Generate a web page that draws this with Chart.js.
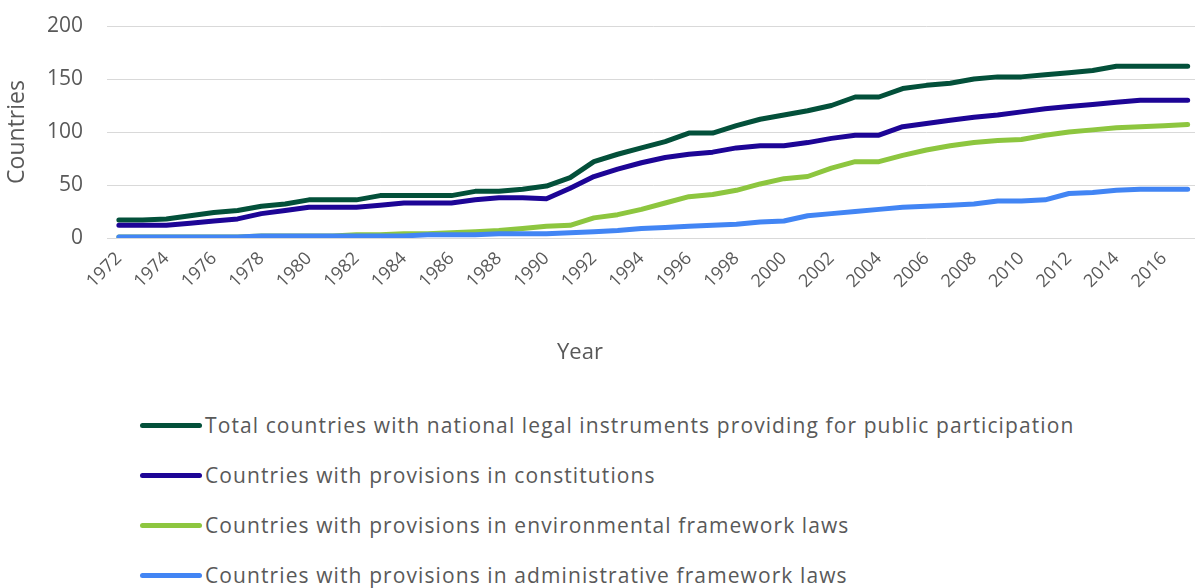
<!DOCTYPE html>
<html>
<head>
<meta charset="utf-8">
<script src="https://cdn.jsdelivr.net/npm/chart.js@4.4.1/dist/chart.umd.min.js"></script>
<style>
	html, body { margin: 0; padding: 0; background: #fff; overflow: hidden; }
	#wrap { position: relative; width: 1205px; height: 588px; }
	#chartBox { position: absolute; left: 0; top: 0; width: 1205px; height: 362px; }
	#xTitle { position: absolute; left: 580px; top: 350px; transform: translate(-50%, -50%); font-family: "Open Sans", sans-serif; font-size: 22px; color: #595959; }
	#legend { position: absolute; left: 140px; top: 400px; font-family: "Open Sans", sans-serif; font-size: 21px; letter-spacing: 1.1px; color: #595959; }
	.item { display: flex; align-items: center; height: 50px; }
	.swatch { width: 62px; height: 5px; border-radius: 3px; margin-right: 3px; }
</style>
</head>
<body>
<div id="wrap">
	<div id="chartBox"><canvas id="lawChart"></canvas></div>
	<div id="xTitle">Year</div>
	<div id="legend"></div>
</div>
<script>
// 연도 (1972 ~ 2017)
const years = [
	'1972', '1973', '1974', '1975', '1976', '1977', '1978', '1979', '1980', '1981',
	'1982', '1983', '1984', '1985', '1986', '1987', '1988', '1989', '1990', '1991',
	'1992', '1993', '1994', '1995', '1996', '1997', '1998', '1999', '2000', '2001',
	'2002', '2003', '2004', '2005', '2006', '2007', '2008', '2009', '2010', '2011',
	'2012', '2013', '2014', '2015', '2016', '2017'
];

const totalCountries = [
	17, 17, 18, 21, 24, 26, 30, 32, 36, 36,
	36, 40, 40, 40, 40, 44, 44, 46, 49, 57,
	72, 79, 85, 91, 99, 99, 106, 112, 116, 120,
	125, 133, 133, 141, 144, 146, 150, 152, 152, 154,
	156, 158, 162, 162, 162, 162
];

const constitutions = [
	12, 12, 12, 14, 16, 18, 23, 26, 29, 29,
	29, 31, 33, 33, 33, 36, 38, 38, 37, 47,
	58, 65, 71, 76, 79, 81, 85, 87, 87, 90,
	94, 97, 97, 105, 108, 111, 114, 116, 119, 122,
	124, 126, 128, 130, 130, 130
];

const environmentalLaws = [
	1, 1, 1, 1, 1, 1, 2, 2, 2, 2,
	3, 3, 4, 4, 5, 6, 7, 9, 11, 12,
	19, 22, 27, 33, 39, 41, 45, 51, 56, 58,
	66, 72, 72, 78, 83, 87, 90, 92, 93, 97,
	100, 102, 104, 105, 106, 107
];

const administrativeLaws = [
	1, 1, 1, 1, 1, 1, 2, 2, 2, 2,
	2, 2, 2, 3, 3, 3, 4, 4, 4, 5,
	6, 7, 9, 10, 11, 12, 13, 15, 16, 21,
	23, 25, 27, 29, 30, 31, 32, 35, 35, 36,
	42, 43, 45, 46, 46, 46
];

const yTicks = [0, 50, 100, 150, 200];

const textColor = '#595959';
const fontFamily = '"Open Sans", sans-serif';

document.addEventListener('DOMContentLoaded', function() {
	const chart = initLawChart();
	buildLegend(chart);
});

/**
 * 라인 차트 초기화
 */
function initLawChart() {
	const ctx = document.getElementById('lawChart').getContext('2d');

	function series(label, data, color, order) {
		return {
			label: label,
			data: data,
			borderColor: color,
			backgroundColor: color,
			borderWidth: 5,
			borderCapStyle: 'round',
			borderJoinStyle: 'round',
			pointRadius: 0,
			tension: 0,
			order: order
		};
	}

	return new Chart(ctx, {
		type: 'line',
		data: {
			labels: years,
			datasets: [
				// Excel 처럼 뒤 시리즈가 위에 그려지도록 order 를 거꾸로
				series('Total countries with national legal instruments providing for public participation', totalCountries, '#03503a', 4),
				series('Countries with provisions in constitutions', constitutions, '#1d0596', 3),
				series('Countries with provisions in environmental framework laws', environmentalLaws, '#8dc63f', 2),
				series('Countries with provisions in administrative framework laws', administrativeLaws, '#4285f4', 1)
			]
		},
		options: {
			responsive: true,
			maintainAspectRatio: false,
			animation: false,
			layout: {
				padding: { top: 26, left: 0, right: 4, bottom: 0 }
			},
			scales: {
				x: {
					offset: true,
					grid: { display: false },
					border: { display: false },
					ticks: {
						autoSkip: false,
						minRotation: 45,
						maxRotation: 45,
						padding: 2,
						color: textColor,
						font: { family: fontFamily, size: 18 },
						callback: function(value, index) {
							return index % 2 === 0 ? years[index] : '';
						}
					},
					afterFit: function(scale) {
						scale.height = 124;
					}
				},
				y: {
					min: 0,
					max: 200,
					afterBuildTicks: function(scale) {
						scale.ticks = yTicks.map(function(v) { return { value: v }; });
					},
					grid: {
						color: '#d9d9d9',
						lineWidth: 1,
						drawTicks: true,
						tickLength: 21,
						tickColor: 'rgba(0,0,0,0)'
					},
					border: { display: false },
					ticks: {
						padding: 3,
						color: textColor,
						font: { family: fontFamily, size: 21 }
					},
					title: {
						display: true,
						text: 'Countries',
						color: textColor,
						font: { family: fontFamily, size: 23 },
						padding: { top: 4, bottom: 0 }
					},
					afterFit: function(scale) {
						scale.width = 107;
					}
				}
			},
			plugins: {
				legend: { display: false },
				tooltip: { enabled: false }
			}
		}
	});
}

/**
 * 범례를 세로 목록으로 생성
 */
function buildLegend(chart) {
	const box = document.getElementById('legend');
	chart.data.datasets.forEach(function(ds) {
		const item = document.createElement('div');
		item.className = 'item';
		const swatch = document.createElement('span');
		swatch.className = 'swatch';
		swatch.style.background = ds.borderColor;
		const text = document.createElement('span');
		text.textContent = ds.label;
		item.appendChild(swatch);
		item.appendChild(text);
		box.appendChild(item);
	});
}
</script>
</body>
</html>
